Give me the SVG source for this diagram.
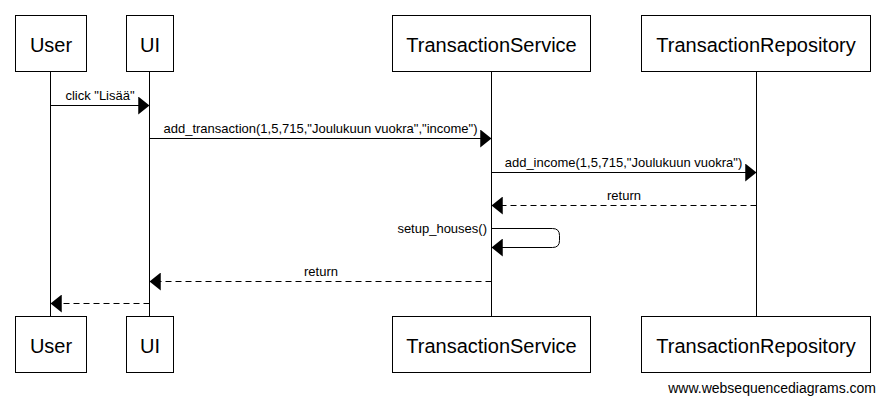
<svg xmlns="http://www.w3.org/2000/svg" width="885" height="408" viewBox="0 0 885 408">
<style>
.box{fill:#fff;stroke:#000;stroke-width:1}
.life{stroke:#000;stroke-width:1}
.pt{font-family:"Liberation Sans",Arial,sans-serif;font-size:20px;fill:#000;text-anchor:middle}
.msg{fill:none;stroke:#000;stroke-width:1}
.dash{stroke-dasharray:6,4}
.lbl{font-family:"Liberation Sans",Arial,sans-serif;font-size:13px;fill:#000;text-anchor:middle}
.foot{font-family:"Liberation Sans",Arial,sans-serif;font-size:14px;fill:#000;text-anchor:end}
</style>
<defs>
<marker id="ah" markerUnits="userSpaceOnUse" markerWidth="12" markerHeight="18" viewBox="0 0 10 16" refX="10" refY="8" orient="auto">
<path d="M0,0 L10,8 L0,16 z" fill="#000"/>
</marker>
</defs>
<rect width="885" height="408" fill="#fff"/>
<g id="lifelines">
<line class="life" x1="50.5" y1="71.5" x2="50.5" y2="316.5"/>
<line class="life" x1="149.5" y1="71.5" x2="149.5" y2="316.5"/>
<line class="life" x1="491.5" y1="71.5" x2="491.5" y2="316.5"/>
<line class="life" x1="756.5" y1="71.5" x2="756.5" y2="316.5"/>
</g>
<g id="user">
<rect class="box" x="15.5" y="15.5" width="71" height="56"/>
<text class="pt" x="51" y="51.5">User</text>
<rect class="box" x="15.5" y="316.5" width="71" height="56"/>
<text class="pt" x="51" y="352.5">User</text>
</g>
<g id="ui">
<rect class="box" x="126.5" y="15.5" width="47" height="56"/>
<text class="pt" x="150" y="51.5">UI</text>
<rect class="box" x="126.5" y="316.5" width="47" height="56"/>
<text class="pt" x="150" y="352.5">UI</text>
</g>
<g id="transactionservice">
<rect class="box" x="392.5" y="15.5" width="198" height="56"/>
<text class="pt" x="491.5" y="51.5">TransactionService</text>
<rect class="box" x="392.5" y="316.5" width="198" height="56"/>
<text class="pt" x="491.5" y="352.5">TransactionService</text>
</g>
<g id="transactionrepository">
<rect class="box" x="641.5" y="15.5" width="229" height="56"/>
<text class="pt" x="756" y="51.5">TransactionRepository</text>
<rect class="box" x="641.5" y="316.5" width="229" height="56"/>
<text class="pt" x="756" y="352.5">TransactionRepository</text>
</g>
<g id="connectors">
<line class="msg" x1="50.5" y1="105.5" x2="149.5" y2="105.5" marker-end="url(#ah)"/>
<text class="lbl" x="100" y="100">click "Lisää"</text>
<line class="msg" x1="149.5" y1="138.5" x2="491.5" y2="138.5" marker-end="url(#ah)"/>
<text class="lbl" x="320.5" y="133">add_transaction(1,5,715,"Joulukuun vuokra","income")</text>
<line class="msg" x1="491.5" y1="172.5" x2="756.5" y2="172.5" marker-end="url(#ah)"/>
<text class="lbl" x="623.5" y="167">add_income(1,5,715,"Joulukuun vuokra")</text>
<line class="msg dash" x1="756.5" y1="205.5" x2="491.5" y2="205.5" marker-end="url(#ah)"/>
<text class="lbl" x="624" y="200">return</text>
<path class="msg" d="M491.5,228.5 H552.5 Q559.5,228.5 559.5,235.5 V240.5 Q559.5,247.5 552.5,247.5 H491.5" marker-end="url(#ah)"/>
<text class="lbl" x="487" y="233" style="text-anchor:end">setup_houses()</text>
<line class="msg dash" x1="491.5" y1="281.5" x2="149.5" y2="281.5" marker-end="url(#ah)"/>
<text class="lbl" x="321" y="276">return</text>
<line class="msg dash" x1="149.5" y1="303.5" x2="50.5" y2="303.5" marker-end="url(#ah)"/>
</g>
<text class="foot" x="876" y="393">www.websequencediagrams.com</text>
</svg>
